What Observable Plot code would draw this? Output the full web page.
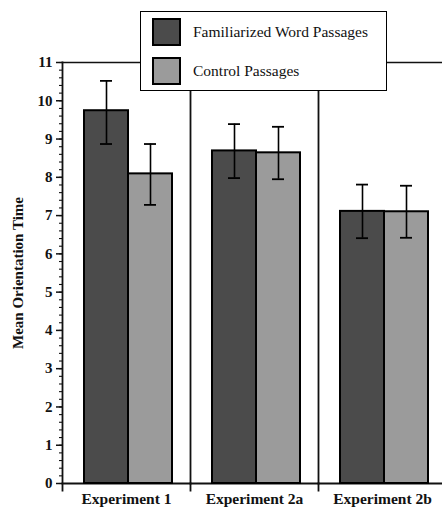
<!DOCTYPE html>
<html>
<head>
<meta charset="utf-8">
<script src="https://cdn.jsdelivr.net/npm/d3@7"></script>
<script src="https://cdn.jsdelivr.net/npm/@observablehq/plot@0.6"></script>
<style>
  html, body { margin: 0; padding: 0; background: #fff; overflow: hidden; }
  #wrap { position: relative; width: 442px; height: 508px; }
  #wrap svg, #wrap svg text { font-family: "Liberation Serif", "Times New Roman", serif !important; }
  #legend {
    position: absolute; left: 140px; top: 11px; width: 245px; height: 78px;
    background: #fff; border: 1.5px solid #000;
    font-family: "Liberation Serif", "Times New Roman", serif; font-size: 15.5px; color: #111;
  }
  .row { position: absolute; left: 11px; display: flex; align-items: center; }
  .sw { width: 25px; height: 24px; border: 2px solid #000; margin-right: 12px; }
</style>
</head>
<body>
<div id="wrap"></div>
<script>
const experiments = ["Experiment 1", "Experiment 2a", "Experiment 2b"];
const conditions = ["Familiarized Word Passages", "Control Passages"];
const familiarizedMean = [9.74, 8.69, 7.11];
const familiarizedLow  = [8.87, 7.98, 6.41];
const familiarizedHigh = [10.52, 9.39, 7.81];
const controlMean = [8.09, 8.64, 7.10];
const controlLow  = [7.28, 7.95, 6.42];
const controlHigh = [8.87, 9.32, 7.78];
const yTickValues = [0, 1, 2, 3, 4, 5, 6, 7, 8, 9, 10, 11];
const conditionColors = ["#4b4b4b", "#9b9b9b"];

const rows = [];
experiments.forEach((e, i) => {
  rows.push({experiment: e, condition: conditions[0], mean: familiarizedMean[i], lo: familiarizedLow[i], hi: familiarizedHigh[i]});
  rows.push({experiment: e, condition: conditions[1], mean: controlMean[i], lo: controlLow[i], hi: controlHigh[i]});
});
const minorTicks = d3.range(0, 56).map(k => k / 5);

const serif = "Liberation Serif, Times New Roman, serif";
const chart = Plot.plot({
  width: 442,
  height: 508,
  marginTop: 62,
  marginBottom: 25,
  marginLeft: 62,
  marginRight: -4,
  style: {fontFamily: serif, color: "#111", background: "#fff"},
  fx: {domain: experiments, padding: 0, axis: null},
  x: {domain: conditions, paddingInner: 0, paddingOuter: 0.4545, align: 0.55, axis: null},
  y: {domain: [0, 11], axis: null},
  color: {domain: conditions, range: conditionColors},
  marks: [
    Plot.frame({anchor: "top", strokeWidth: 1.5}),
    Plot.frame({anchor: "bottom", strokeWidth: 1.8}),
    Plot.frame({anchor: "left", strokeWidth: 1.8, insetBottom: -7}),
    Plot.barY(rows, {fx: "experiment", x: "condition", y: "mean", fill: "condition", stroke: "#000", strokeWidth: 2}),
    Plot.ruleX(rows, {fx: "experiment", x: "condition", y1: "lo", y2: "hi", stroke: "#000", strokeWidth: 1.6}),
    Plot.tickY(rows, {fx: "experiment", x: "condition", y: "hi", stroke: "#000", strokeWidth: 1.8, insetLeft: 16, insetRight: 16}),
    Plot.tickY(rows, {fx: "experiment", x: "condition", y: "lo", stroke: "#000", strokeWidth: 1.8, insetLeft: 16, insetRight: 16}),
    Plot.axisY({ticks: minorTicks, tickSize: 3, text: null, strokeWidth: 1.1, label: null}),
    Plot.axisY({ticks: yTickValues, tickSize: 6, tickPadding: 4, strokeWidth: 1.5, fontSize: 15, fontWeight: "bold", fontFamily: serif,
                label: "Mean Orientation Time", labelAnchor: "center", labelOffset: 50, labelArrow: "none"}),
    Plot.axisFx({anchor: "bottom", tickSize: 0, tickPadding: 9, fontSize: 15.5, fontWeight: "bold", fontFamily: serif, label: null})
  ]
});
const wrap = document.getElementById("wrap");
wrap.appendChild(chart);

const legend = document.createElement("div");
legend.id = "legend";
conditions.forEach((c, i) => {
  const r = document.createElement("div");
  r.className = "row";
  r.style.top = (6 + i * 39) + "px";
  const sw = document.createElement("div");
  sw.className = "sw";
  sw.style.background = conditionColors[i];
  const t = document.createElement("span");
  t.textContent = c;
  r.appendChild(sw); r.appendChild(t);
  legend.appendChild(r);
});
wrap.appendChild(legend);
</script>
</body>
</html>
